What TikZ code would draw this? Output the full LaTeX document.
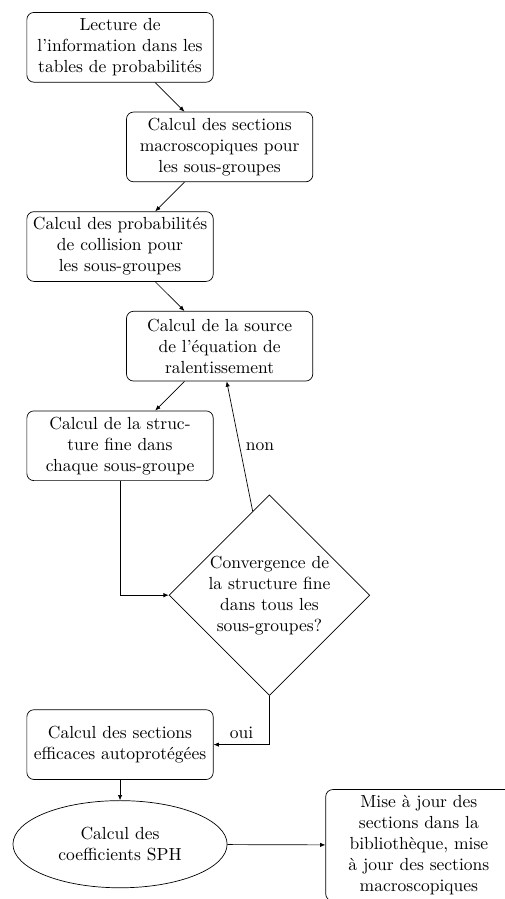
\documentclass[tikz,border=0pt]{standalone}
\usepackage{tikz}
\usetikzlibrary{arrows.meta, shapes.geometric}

\begin{document}
\begin{tikzpicture}[
  bloc/.style={draw, rectangle, rounded corners=4pt, text width=3.6cm, inner xsep=2pt, align=center, minimum height=1.4cm},
  test/.style={draw, diamond, aspect=1, inner sep=0pt, align=center, minimum width=4cm, minimum height=4cm},
  calcul/.style={draw, ellipse, align=center, minimum width=4.3cm, minimum height=1.75cm},
  fleche/.style={-{Latex[length=3pt,width=2.5pt]}}
]
  \useasboundingbox (-2.41,0.95) rectangle (7.71,-17.10);
  \node[bloc] (lecture) at (0,0) {Lecture de\\ l'information dans les\\ tables de probabilités};
  \node[bloc] (macro) at (2,-2) {Calcul des sections\\ macroscopiques pour\\ les sous-groupes};
  \node[bloc] (proba) at (0,-4) {Calcul des probabilités\\ de collision pour\\ les sous-groupes};
  \node[bloc] (source) at (2,-6) {Calcul de la source\\ de l'équation de\\ ralentissement};
  \node[bloc] (struct) at (0,-8) {Calcul de la struc-\\ture fine dans\\ chaque sous-groupe};
  \node[test] (conv) at (3,-11) {Convergence de\\ la structure fine\\ dans tous les\\ sous-groupes?};
  \node[bloc] (autop) at (0,-14) {Calcul des sections\\ efficaces autoprotégées};
  \node[calcul] (sph) at (0,-16) {Calcul des\\ coefficients SPH};
  \node[bloc] (maj) at (6,-16.02) {Mise à jour des\\ sections dans la\\ bibliothèque, mise\\ à jour des sections\\ macroscopiques};
  \draw[fleche] (lecture) -- (macro);
  \draw[fleche] (macro) -- (proba);
  \draw[fleche] (proba) -- (source);
  \draw[fleche] (source) -- (struct);
  \draw[fleche] (struct) |- (conv);
  \draw[fleche] (conv) -- node[right] {non} (source);
  \draw[fleche] (conv) |- node[pos=0.75,above] {oui} (autop);
  \draw[fleche] (autop) -- (sph);
  \draw[fleche] (sph) -- (maj);
\end{tikzpicture}
\end{document}
